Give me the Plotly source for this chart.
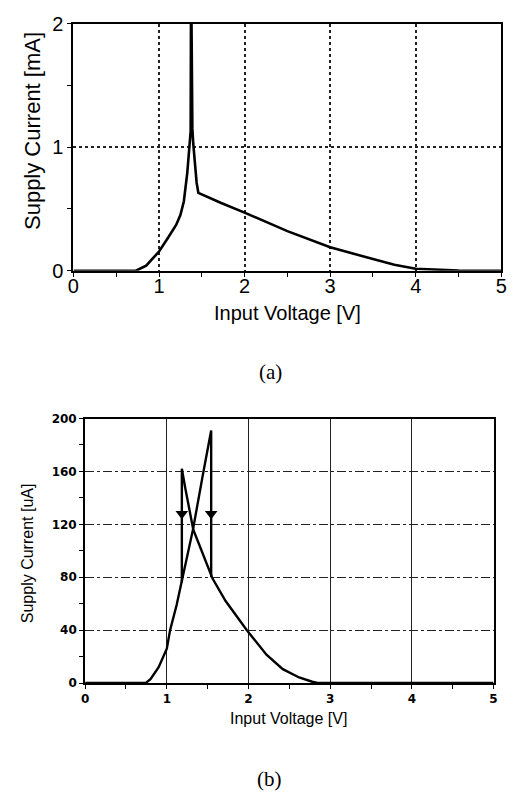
import plotly.graph_objects as go

# ---------- data: panel (a) ----------
a_x = [0.0, 0.73, 0.85, 1.0, 1.1, 1.2, 1.25, 1.29, 1.33, 1.37, 1.373, 1.38, 1.39, 1.40, 1.44, 1.46,
       1.72, 2.0, 2.5, 3.0, 3.5, 3.75, 4.0, 4.25, 4.5, 5.0]
a_y = [0.0, 0.0, 0.04, 0.155, 0.26, 0.37, 0.45, 0.56, 0.79, 1.13, 2.0, 2.0, 1.15, 1.03, 0.71, 0.63,
       0.55, 0.47, 0.32, 0.19, 0.094, 0.048, 0.016, 0.006, 0.002, 0.0]

# ---------- data: panel (b) ----------
b_rise_x = [0.0, 0.74, 0.8, 0.9, 1.0, 1.04, 1.12, 1.2, 1.32, 1.44, 1.52, 1.543, 1.543]
b_rise_y = [0.0, 0.0, 3, 12, 26, 40, 59, 81, 116, 157, 182, 191, 80]
b_fall_x = [1.184, 1.184, 1.224, 1.324, 1.42, 1.56, 1.72, 1.98, 2.22, 2.42, 2.62, 2.78, 2.86, 5.0]
b_fall_y = [76, 162, 148, 116, 101, 79, 62, 40, 21.5, 10.5, 4.2, 1.0, 0.0, 0.0]
arrow_x = [1.184, 1.543]
arrow_y = [128, 128]

a_xticks = [0, 1, 2, 3, 4, 5]
a_yticks = [0, 1, 2]
b_xticks = [0, 1, 2, 3, 4, 5]
b_yticks = [0, 40, 80, 120, 160, 200]

W, H = 522, 803


def py(p):
    return 1 - p / H


def px(p):
    return p / W


fig = go.Figure()
fig.add_trace(go.Scatter(x=a_x, y=a_y, mode="lines", line=dict(color="black", width=2.6),
                         xaxis="x", yaxis="y", showlegend=False))
fig.add_trace(go.Scatter(x=b_rise_x, y=b_rise_y, mode="lines", line=dict(color="black", width=2.4),
                         xaxis="x2", yaxis="y2", showlegend=False))
fig.add_trace(go.Scatter(x=b_fall_x, y=b_fall_y, mode="lines", line=dict(color="black", width=2.4),
                         xaxis="x2", yaxis="y2", showlegend=False))
fig.add_trace(go.Scatter(x=arrow_x, y=arrow_y, mode="markers",
                         marker=dict(symbol="triangle-down", size=11, color="black"),
                         xaxis="x2", yaxis="y2", showlegend=False))

a_tick_font = dict(family="Liberation Sans, Arial, sans-serif", size=20, color="black")
b_tick_font = dict(family="DejaVu Sans, sans-serif", size=12, color="black", weight="bold")

common = dict(showline=True, linecolor="black", mirror=True, zeroline=False,
              ticks="outside", tickcolor="black", ticklen=4)

fig.update_layout(
    width=W, height=H, margin=dict(l=0, r=0, t=0, b=0),
    paper_bgcolor="white", plot_bgcolor="white",
    xaxis=dict(domain=[px(69), px(507)], range=[0, 5], tickvals=a_xticks,
               anchor="y", showgrid=True, gridcolor="#222", griddash="dot", gridwidth=1.5,
               linewidth=2, tickfont=a_tick_font, ticklabelstandoff=-8,
               minor=dict(dtick=0.5, tick0=0, ticks="outside", ticklen=4, tickcolor="black", showgrid=False),
               **common),
    yaxis=dict(domain=[py(267), py(13)], range=[0, 2], tickvals=a_yticks,
               anchor="x", showgrid=True, gridcolor="#222", griddash="dot", gridwidth=1.5,
               linewidth=2, tickfont=a_tick_font,
               minor=dict(dtick=0.5, tick0=0, ticks="outside", ticklen=4, tickcolor="black", showgrid=False),
               **common),
    xaxis2=dict(domain=[px(81), px(499)], range=[0, 5], tickvals=b_xticks,
                anchor="y2", showgrid=True, gridcolor="#222", griddash="solid", gridwidth=1.3,
                linewidth=2, tickfont=b_tick_font,
                minor=dict(dtick=0.5, tick0=0, ticks="outside", ticklen=4, tickcolor="black", showgrid=False),
                **common),
    yaxis2=dict(domain=[py(691), py(419)], range=[0, 200], tickvals=b_yticks,
                anchor="x2", showgrid=True, gridcolor="#222", griddash="dashdot", gridwidth=1.3,
                linewidth=2, tickfont=b_tick_font,
                minor=dict(dtick=20, tick0=0, ticks="outside", ticklen=4, tickcolor="black", showgrid=False),
                **common),
    annotations=[
        dict(text="Supply Current [mA]", x=px(27), y=py(123), xref="paper", yref="paper",
             textangle=-90, showarrow=False, xanchor="center", yanchor="middle",
             font=dict(family="Liberation Sans, Arial, sans-serif", size=22, color="black")),
        dict(text="Input Voltage [V]", x=px(288), y=py(310), xref="paper", yref="paper",
             showarrow=False, xanchor="center", yanchor="middle",
             font=dict(family="Liberation Sans, Arial, sans-serif", size=20, color="black")),
        dict(text="(a)", x=px(271), y=py(371), xref="paper", yref="paper",
             showarrow=False, xanchor="center", yanchor="middle",
             font=dict(family="Liberation Serif, DejaVu Serif, serif", size=21, color="black")),
        dict(text="Supply Current [uA]", x=px(22), y=py(557), xref="paper", yref="paper",
             textangle=-90, showarrow=False, xanchor="center", yanchor="middle",
             font=dict(family="Liberation Sans, Arial, sans-serif", size=16, color="black")),
        dict(text="Input Voltage [V]", x=px(289), y=py(727), xref="paper", yref="paper",
             showarrow=False, xanchor="center", yanchor="middle",
             font=dict(family="Liberation Sans, Arial, sans-serif", size=16, color="black")),
        dict(text="(b)", x=px(270), y=py(790), xref="paper", yref="paper",
             showarrow=False, xanchor="center", yanchor="middle",
             font=dict(family="Liberation Serif, DejaVu Serif, serif", size=21, color="black")),
    ],
)

fig.write_html("out.html")
